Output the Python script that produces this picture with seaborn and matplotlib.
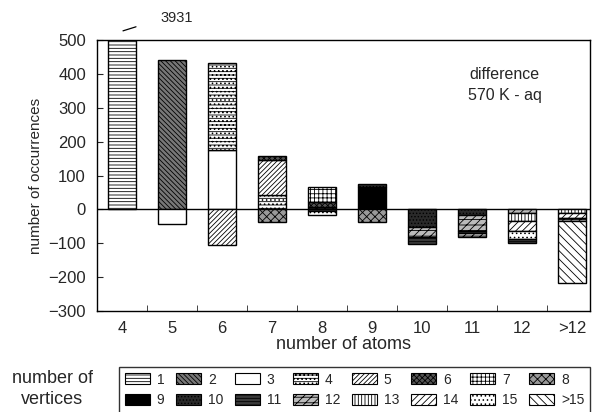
import numpy as np
import pandas as pd
import matplotlib.pyplot as plt
import seaborn as sns
from matplotlib.patches import Patch
from matplotlib.lines import Line2D

# --- data ---
atoms = ["4", "5", "6", "7", "8", "9", "10", "11", "12", ">12"]
vertex_classes = ["1", "2", "3", "4", "5", "6", "7", "8",
                  "9", "10", "11", "12", "13", "14", "15", ">15"]

# stacked segments, in stacking order away from zero (signed values)
seg_atoms = ["4",
             "5", "5",
             "6", "6", "6",
             "7", "7", "7", "7",
             "8", "8", "8", "8", "8",
             "9", "9", "9",
             "10", "10", "10",
             "11", "11", "11", "11",
             "12", "12", "12", "12", "12",
             ">12", ">12", ">12", ">12"]
seg_vertex = ["1",
              "2", "3",
              "3", "4", "5",
              "4", "5", "6", "8",
              "12", "6", "7", "11", "15",
              "9", "10", "8",
              "10", "12", "11",
              "10", "12", "11", "12",
              "12", "13", "14", "15", "11",
              "13", "14", "12", ">15"]
seg_value = [3931,
             440, -44,
             176, 255, -104,
             43, 104, 10, -37,
             8, 15, 44, -6, -11,
             67, 9, -37,
             -53, -30, -18,
             -18, -45, -8, -10,
             -10, -25, -30, -22, -12,
             -12, -13, -10, -182]

# hatch / fill style per vertex class
styles = {
    "1": ("white", "-----"),
    "2": ("#777777", "\\\\\\\\\\\\\\"),
    "3": ("white", ""),
    "4": ("white", "-----...."),
    "5": ("white", "///////"),
    "6": ("#555555", "xxxxxx"),
    "7": ("white", "++++"),
    "8": ("#999999", "xxxx"),
    "9": ("black", ""),
    "10": ("#2a2a2a", "....."),
    "11": ("#3a3a3a", "-----"),
    "12": ("#bbbbbb", "////---"),
    "13": ("white", "|||||"),
    "14": ("white", "/////"),
    "15": ("white", "...."),
    ">15": ("white", "\\\\\\\\"),
}

df = pd.DataFrame({"atoms": seg_atoms, "vertex": seg_vertex, "value": seg_value})

sns.set_style("ticks")
plt.rcParams["font.family"] = ["Liberation Sans", "DejaVu Sans"]
plt.rcParams["hatch.linewidth"] = 0.6

fig = plt.figure(figsize=(5.98, 4.12), dpi=100)
ax = fig.add_axes([97 / 598, 1 - 311 / 412, 493 / 598, 271 / 412])

xpos = {a: i for i, a in enumerate(atoms)}
pos_base = {a: 0.0 for a in atoms}
neg_base = {a: 0.0 for a in atoms}
for _, r in df.iterrows():
    fc, h = styles[r["vertex"]]
    if r["value"] >= 0:
        b = pos_base[r["atoms"]]
        pos_base[r["atoms"]] += r["value"]
    else:
        b = neg_base[r["atoms"]]
        neg_base[r["atoms"]] += r["value"]
    ax.bar(xpos[r["atoms"]], r["value"], bottom=b, width=0.56, color=fc,
           hatch=h, edgecolor="black", linewidth=1.0, zorder=2)

ax.axhline(0, color="black", linewidth=1.0, zorder=1)
ax.set_xlim(-0.5, 9.36)
ax.set_ylim(-300, 500)
ax.set_yticks(np.arange(-300, 501, 100))
ax.set_xticks(np.arange(len(atoms)))
ax.set_xticklabels(atoms)
ax.set_xticks(np.arange(len(atoms) - 1) + 0.5, minor=True)
ax.tick_params(axis="x", which="major", length=0, labelsize=12, pad=7)
ax.tick_params(axis="x", which="minor", direction="in", length=4)
ax.tick_params(axis="y", direction="in", length=4, labelsize=12, pad=8)
for s in ax.spines.values():
    s.set_linewidth(1.0)
    s.set_color("black")
ax.set_xlabel("number of atoms", fontsize=13, labelpad=0)
ax.set_ylabel("number of occurrences", fontsize=11, labelpad=4)

ax.text(7.65, 420, "difference\n570 K - aq", ha="center", va="top",
        fontsize=11.5, linespacing=1.5)

# off-scale value for the first bar
ax.text(0.76, 566, "3931", fontsize=10.5, ha="left", va="center", clip_on=False)
ax.add_line(Line2D([0.02, 0.28], [527, 539], color="black", lw=0.9, clip_on=False))

order = [v for pair in zip(vertex_classes[:8], vertex_classes[8:]) for v in pair]
handles = [Patch(facecolor=styles[v][0], hatch=styles[v][1], edgecolor="black",
                 linewidth=0.8, label=v) for v in order]
fig.legend(handles=handles, ncol=8, loc="upper left", mode="expand",
           bbox_to_anchor=(119 / 598, 1 - 411 / 412, 471 / 598, 44 / 412),
           fontsize=10, handlelength=1.8, handleheight=0.86,
           handletextpad=0.5, labelspacing=0.5, frameon=True,
           fancybox=False, edgecolor="black", borderpad=0.4,
           borderaxespad=0)
fig.text(52 / 598, 1 - 389 / 412, "number of\nvertices", ha="center",
         va="center", fontsize=13, linespacing=1.3)

fig.savefig("out.png", dpi=100)
